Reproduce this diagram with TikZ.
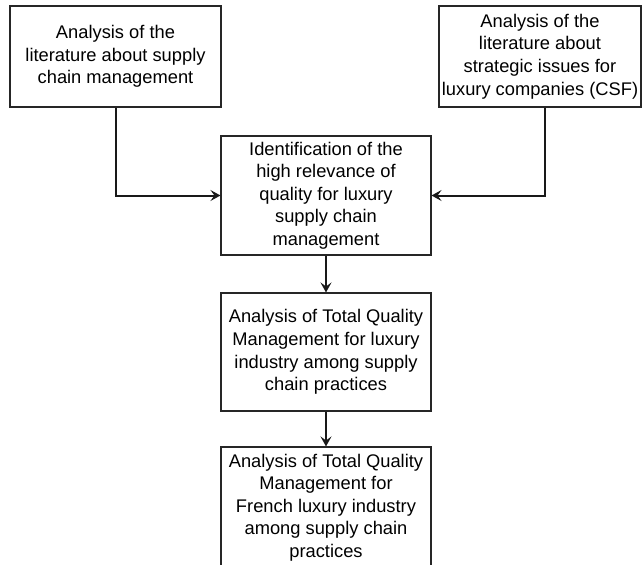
\documentclass[tikz,border=0pt]{standalone}
\usepackage{fontspec}
\setmainfont{Liberation Sans}
\usetikzlibrary{arrows.meta}
\begin{document}
\begin{tikzpicture}[x=1pt,y=-1pt,
    stagebox/.style={draw=black!85, line width=1.1pt, align=center, inner sep=0pt,
        font=\fontsize{18.3}{22.6}\selectfont},
    stagearrow/.style={draw=black!90, line width=2pt, -{Stealth[length=10pt,width=11pt,inset=4pt]}}]
        \useasboundingbox (0,0) rectangle (643,565);

        \node[stagebox, minimum width=211pt, minimum height=101pt] (scm) at (115.5,56.5)
                {Analysis of the\\literature about supply\\chain management};
        \node[stagebox, minimum width=202pt, minimum height=101pt] (csf) at (540,56.5)
                {Analysis of the\\literature about\\strategic issues for\\luxury companies (CSF)};
        \node[stagebox, minimum width=210pt, minimum height=119pt] (quality) at (326,195.5)
                {Identification of the\\high relevance of\\quality for luxury\\supply chain\\management};
        \node[stagebox, minimum width=210pt, minimum height=118pt] (tqm) at (326,352)
                {Analysis of Total Quality\\Management for luxury\\industry among supply\\chain practices};
        \node[stagebox, minimum width=210pt, minimum height=121pt] (french) at (326,507.5)
                {Analysis of Total Quality\\Management for\\French luxury industry\\among supply chain\\practices};

        % flows into the middle box
        \draw[stagearrow] (scm.south) |- (quality.west);
        \draw[stagearrow] ([xshift=5pt]csf.south) |- (quality.east);
        \draw[stagearrow] (quality) -- (tqm);
        \draw[stagearrow] (tqm) -- (french);
\end{tikzpicture}
\end{document}
